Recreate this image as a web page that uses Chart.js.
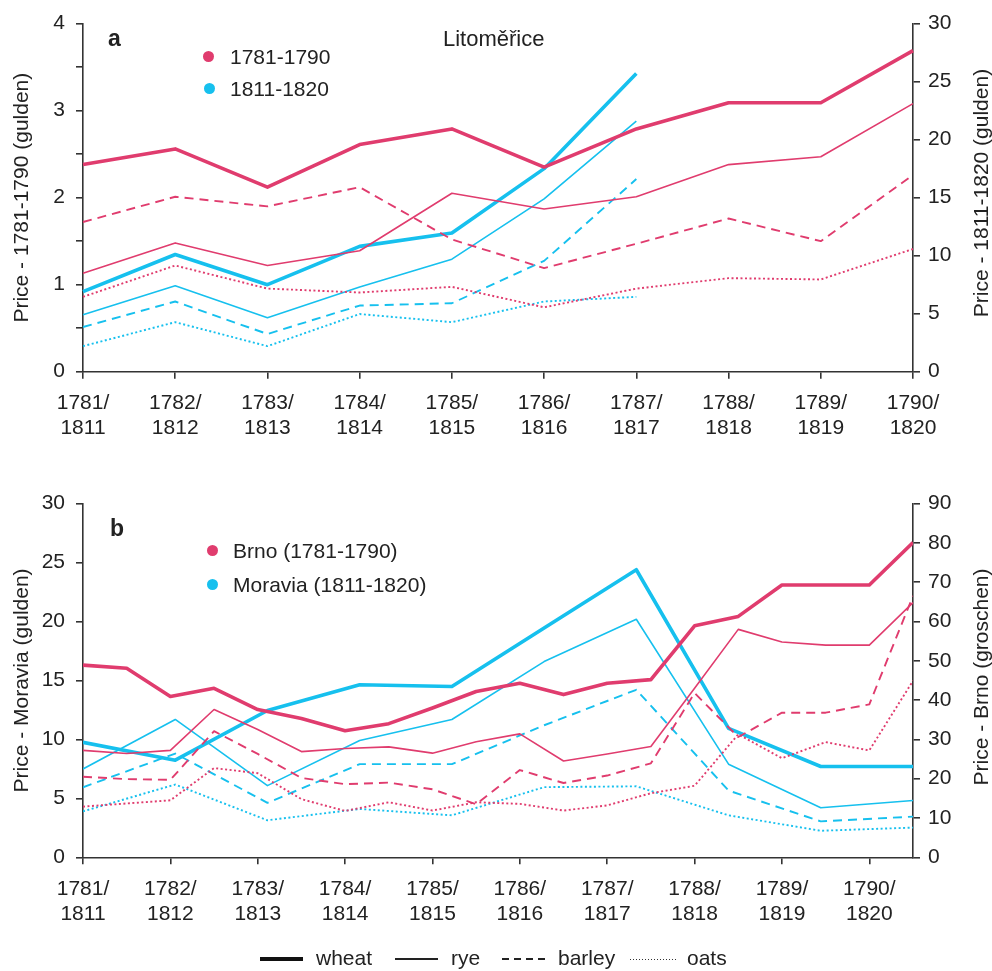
<!DOCTYPE html>
<html><head><meta charset="utf-8">
<script src="https://cdn.jsdelivr.net/npm/chart.js@4.4.1/dist/chart.umd.min.js"></script>
<style>
html,body{margin:0;padding:0;background:#fff}
body{width:992px;height:971px;overflow:hidden;position:relative;font-family:"Liberation Sans",Arial,sans-serif;color:#222}
#ca{position:absolute;left:0;top:0}
#cb{position:absolute;left:0;top:480px}
.t{position:absolute;white-space:nowrap;font-size:21px;line-height:21px}
.rt{position:absolute;white-space:nowrap;font-size:21px;line-height:21px;transform:translate(-50%,-50%) rotate(-90deg)}
.dot{position:absolute;width:11px;height:11px;border-radius:50%}
.ls{position:absolute}
</style></head>
<body>
<canvas id="ca" width="992" height="460"></canvas>
<canvas id="cb" width="992" height="470"></canvas>

<div class="t" style="left:108px;top:27px;font-weight:bold;font-size:23px;line-height:23px">a</div>
<div class="t" style="left:443px;top:28px;font-size:22px;line-height:22px">Litoměřice</div>
<div class="dot" style="left:203px;top:51px;background:#E03C6E"></div>
<div class="t" style="left:230px;top:45.5px">1781-1790</div>
<div class="dot" style="left:203.5px;top:83px;background:#16C0EE"></div>
<div class="t" style="left:230px;top:78px">1811-1820</div>
<div class="rt" style="left:980px;top:193px">Price - 1811-1820 (gulden)</div>

<div class="t" style="left:110px;top:517px;font-weight:bold;font-size:23px;line-height:23px">b</div>
<div class="dot" style="left:207px;top:545px;background:#E03C6E"></div>
<div class="t" style="left:233px;top:540px">Brno (1781-1790)</div>
<div class="dot" style="left:207px;top:578.5px;background:#16C0EE"></div>
<div class="t" style="left:233px;top:574px">Moravia (1811-1820)</div>
<div class="rt" style="left:980px;top:677px">Price - Brno (groschen)</div>

<div class="ls" style="left:260px;top:957px;width:43px;height:4px;background:#111"></div>
<div class="t" style="left:316px;top:947px">wheat</div>
<div class="ls" style="left:395px;top:958.3px;width:43px;height:1.5px;background:#222"></div>
<div class="t" style="left:451px;top:947px">rye</div>
<div class="ls" style="left:502px;top:958px;width:43px;height:2px;background:repeating-linear-gradient(90deg,#222 0 7px,transparent 7px 12px)"></div>
<div class="t" style="left:558px;top:947px">barley</div>
<div class="ls" style="left:630px;top:958.5px;width:47px;height:1.3px;background:repeating-linear-gradient(90deg,#333 0 1.5px,transparent 1.5px 3px)"></div>
<div class="t" style="left:687px;top:947px">oats</div>

<script>
// ---------- DATA ----------
const yearsA = ['1781','1782','1783','1784','1785','1786','1787','1788','1789','1790'];
const yearsB = ['1811','1812','1813','1814','1815','1816','1817','1818','1819','1820'];

// Panel a: Litoměřice, 1781-1790 (left axis, gulden)
const litWheat1780s  = [2.38, 2.56, 2.12, 2.61, 2.79, 2.35, 2.79, 3.09, 3.09, 3.69];
const litRye1780s    = [1.13, 1.48, 1.22, 1.39, 2.05, 1.87, 2.01, 2.38, 2.47, 3.08];
const litBarley1780s = [1.72, 2.01, 1.90, 2.12, 1.52, 1.19, 1.47, 1.76, 1.50, 2.26];
const litOats1780s   = [0.86, 1.22, 0.955, 0.91, 0.975, 0.74, 0.955, 1.075, 1.06, 1.41];
// Panel a: Litoměřice, 1811-1820 (right axis, gulden)
const litWheat1810s  = [6.9, 10.1, 7.5, 10.8, 11.95, 17.5, 25.7];
const litRye1810s    = [4.9, 7.4, 4.65, 7.3, 9.7, 14.9, 21.6];
const litBarley1810s = [3.85, 6.05, 3.25, 5.7, 5.9, 9.55, 16.6];
const litOats1810s   = [2.2, 4.27, 2.2, 4.97, 4.27, 6.05, 6.45];

// Panel b: Brno 1781-1790 (half-yearly, right axis, groschen)
const brnoX      = [0, 0.5, 1, 1.5, 2, 2.5, 3, 3.5, 4, 4.5, 5, 5.5, 6, 6.5, 7, 7.5, 8, 8.5, 9, 9.5];
const brnoWheat  = [48.9, 48.1, 40.9, 43.0, 37.6, 35.3, 32.2, 34.0, 38.0, 42.2, 44.3, 41.4, 44.3, 45.2, 58.9, 61.3, 69.3, 69.3, 69.3, 80.1];
const brnoRye    = [27.2, 26.4, 27.2, 37.6, 32.5, 26.9, 27.7, 28.1, 26.5, 29.4, 31.4, 24.5, 26.3, 28.2, 43.0, 58.0, 54.8, 54.0, 54.0, 64.8];
const brnoBarley = [20.5, 19.9, 19.7, 32.1, 26.3, 20.2, 18.6, 19.0, 17.3, 13.5, 22.2, 18.9, 20.8, 23.9, 41.8, 30.6, 36.8, 36.8, 38.9, 66.5];
const brnoOats   = [12.9, 13.7, 14.5, 22.7, 21.4, 14.8, 11.8, 14.0, 11.9, 14.0, 13.6, 11.9, 13.2, 16.3, 18.2, 31.3, 25.2, 29.3, 27.2, 44.9];

// Panel b: Moravia 1811-1820 (left axis, gulden)
const moraviaX      = [0, 1.056, 2.111, 3.167, 4.222, 5.278, 6.333, 7.389, 8.444, 9.5];
const moraviaWheat  = [9.75, 8.24, 12.45, 14.63, 14.49, 19.45, 24.39, 10.93, 7.7, 7.7];
const moraviaRye    = [7.49, 11.69, 6.08, 9.9, 11.69, 16.6, 20.19, 7.9, 4.2, 4.82];
const moraviaBarley = [5.94, 8.8, 4.62, 7.9, 7.9, 11.2, 14.21, 5.66, 3.05, 3.45];
const moraviaOats   = [3.9, 6.17, 3.14, 4.1, 3.56, 5.95, 6.02, 3.56, 2.25, 2.52];

const xTickPos = [0, 1, 2, 3, 4, 5, 6, 7, 8, 9];

// ---------- STYLE ----------
const PINK = '#E03C6E', CYAN = '#16C0EE', AX = '#333', TXT = '#222';
const FONT = {family: '"Liberation Sans", Arial, sans-serif', size: 21};
const STYLE = {
  wheat:  {w: 3.6, dash: []},
  rye:    {w: 1.6, dash: []},
  barley: {w: 1.9, dash: [9, 6]},
  oats:   {w: 1.9, dash: [2, 2.5]}
};
function ds(data, color, kind, axis) {
  const s = STYLE[kind];
  return {data, borderColor: color, backgroundColor: color, borderWidth: s.w, borderDash: s.dash,
          pointRadius: 0, tension: 0, fill: false, yAxisID: axis, borderCapStyle: 'butt', borderJoinStyle: 'round'};
}
function xy(xs, ys) { return ys.map((v, i) => ({x: xs[i], y: v})); }
const twoLine = i => [yearsA[i] + '/', yearsB[i]];

function yAxis(pos, min, max, step, every, title, w) {
  return {
    type: 'linear', position: pos, min, max,
    border: {display: true, color: AX, width: 1.6},
    grid: {drawOnChartArea: false, drawTicks: true, tickLength: 7, color: AX, lineWidth: 1.6},
    ticks: {stepSize: step, autoSkip: false, color: TXT, font: FONT, padding: pos === 'left' ? 11 : 8,
            callback: v => (Math.abs(v / every - Math.round(v / every)) < 1e-6 ? String(v) : '')},
    title: {display: pos === 'left', text: title, color: TXT, font: FONT,
            padding: {top: 10, bottom: 0}},
    afterFit: s => { s.width = w; }
  };
}
function xGrid() {
  return {
    border: {display: true, color: AX, width: 1.6},
    grid: {drawOnChartArea: false, drawTicks: true, tickLength: 7, color: AX, lineWidth: 1.6}
  };
}
const common = {
  responsive: false, animation: false, devicePixelRatio: 1,
  plugins: {legend: {display: false}, tooltip: {enabled: false}}
};

// ---------- PANEL A ----------
new Chart(document.getElementById('ca'), {
  type: 'line',
  data: {
    labels: yearsA.map((y, i) => twoLine(i)),
    datasets: [
      ds(litOats1780s, PINK, 'oats', 'yL'),
      ds(litBarley1780s, PINK, 'barley', 'yL'),
      ds(litRye1780s, PINK, 'rye', 'yL'),
      ds(litWheat1780s, PINK, 'wheat', 'yL'),
      ds(litOats1810s, CYAN, 'oats', 'yR'),
      ds(litBarley1810s, CYAN, 'barley', 'yR'),
      ds(litRye1810s, CYAN, 'rye', 'yR'),
      ds(litWheat1810s, CYAN, 'wheat', 'yR')
    ]
  },
  options: Object.assign({}, common, {
    layout: {padding: {top: 15.7, left: 0, right: 0, bottom: 0}},
    scales: {
      x: Object.assign(xGrid(), {
        type: 'category', offset: false,
        ticks: {color: TXT, font: FONT, padding: 12, autoSkip: false, maxRotation: 0},
        afterFit: s => { s.height = 460 - 371.7; }
      }),
      yL: yAxis('left', 0, 4, 0.5, 1, 'Price - 1781-1790 (gulden)', 83),
      yR: yAxis('right', 0, 30, 5, 5, 'Price - 1811-1820 (gulden)', 79)
    }
  })
});

// ---------- PANEL B ----------
new Chart(document.getElementById('cb'), {
  type: 'line',
  data: {
    datasets: [
      ds(xy(brnoX, brnoOats), PINK, 'oats', 'yR'),
      ds(xy(brnoX, brnoBarley), PINK, 'barley', 'yR'),
      ds(xy(brnoX, brnoRye), PINK, 'rye', 'yR'),
      ds(xy(brnoX, brnoWheat), PINK, 'wheat', 'yR'),
      ds(xy(moraviaX, moraviaOats), CYAN, 'oats', 'yL'),
      ds(xy(moraviaX, moraviaBarley), CYAN, 'barley', 'yL'),
      ds(xy(moraviaX, moraviaRye), CYAN, 'rye', 'yL'),
      ds(xy(moraviaX, moraviaWheat), CYAN, 'wheat', 'yL')
    ]
  },
  options: Object.assign({}, common, {
    layout: {padding: {top: 20.7, left: 0, right: 0, bottom: 0}},
    scales: {
      x: Object.assign(xGrid(), {
        type: 'linear', min: 0, max: 9.5,
        afterBuildTicks: s => { s.ticks = xTickPos.map(v => ({value: v})); },
        ticks: {color: TXT, font: FONT, padding: 12, autoSkip: false, maxRotation: 0,
                callback: v => twoLine(v)},
        afterFit: s => { s.height = 470 - 377.3; }
      }),
      yL: yAxis('left', 0, 30, 5, 5, 'Price - Moravia (gulden)', 83),
      yR: yAxis('right', 0, 90, 10, 10, 'Price - Brno (groschen)', 79)
    }
  })
});
</script>
</body></html>
